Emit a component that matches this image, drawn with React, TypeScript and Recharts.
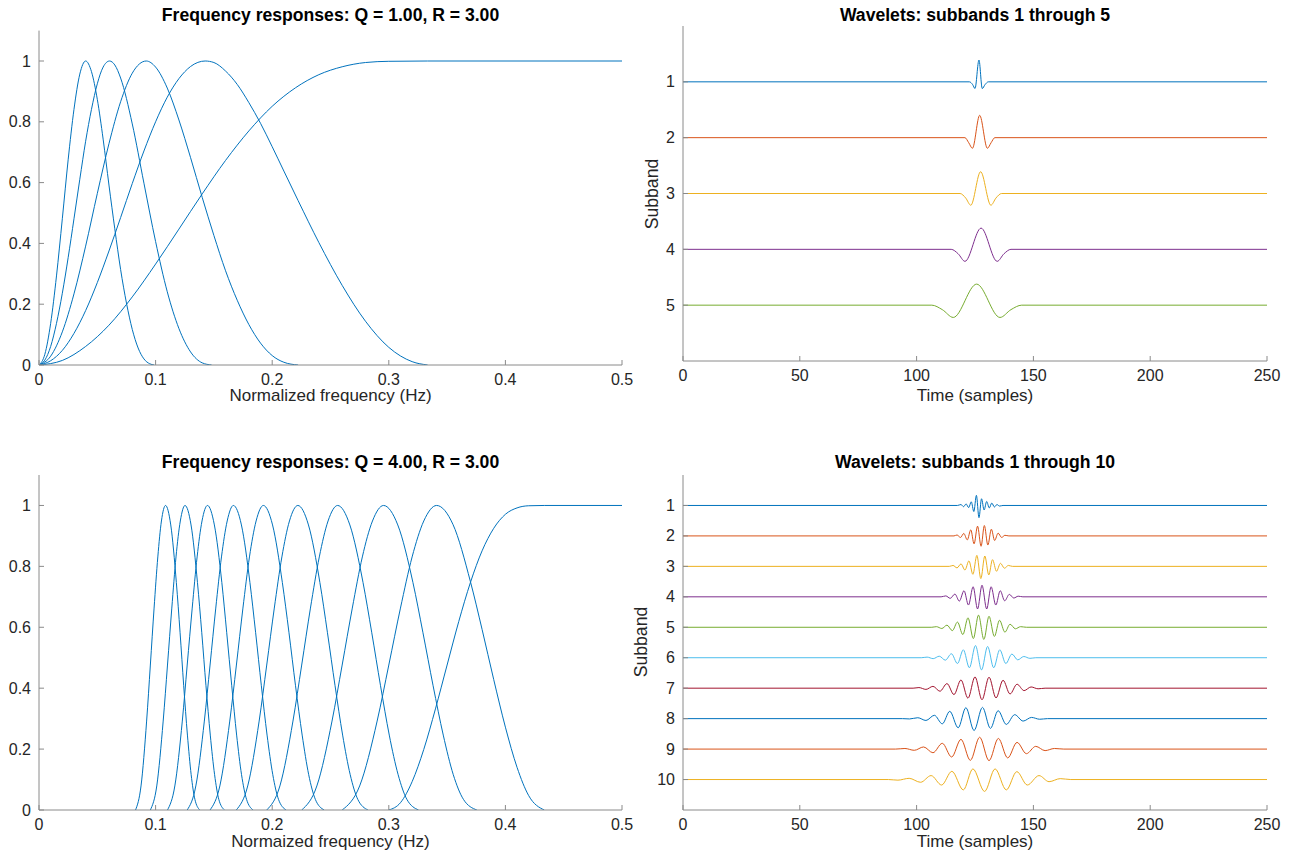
import React from 'react';
import { LineChart, Line, XAxis, YAxis } from 'recharts';

type Pt = [number, number];

// ---------- Top-left: Frequency responses Q = 1, R = 3 ----------
const tlHighpass: Pt[] = [[0,0],[0.02,0.015],[0.04,0.061],[0.06,0.131],[0.08,0.224],[0.1,0.332],[0.12,0.447],[0.14,0.563],[0.16,0.673],[0.18,0.77],[0.2,0.851],[0.22,0.912],[0.24,0.955],[0.26,0.981],[0.28,0.995],[0.3,0.999],[0.3333,1],[0.5,1]];
const tlBand2: Pt[] = [[0,0],[0.01,0.014],[0.02,0.048],[0.03,0.104],[0.04,0.179],[0.05,0.271],[0.06,0.375],[0.07,0.485],[0.08,0.597],[0.09,0.704],[0.1,0.8],[0.11,0.881],[0.12,0.942],[0.13,0.982],[0.1425,1],[0.15,0.995],[0.16,0.967],[0.17,0.923],[0.18,0.863],[0.19,0.795],[0.2,0.718],[0.21,0.638],[0.2222,0.541],[0.24,0.403],[0.26,0.262],[0.28,0.144],[0.3,0.058],[0.32,0.011],[0.3333,0]];
const tlBand3: Pt[] = [[0,0],[0.01,0.029],[0.02,0.109],[0.03,0.234],[0.04,0.391],[0.05,0.564],[0.06,0.728],[0.07,0.866],[0.08,0.96],[0.092,1],[0.1,0.98],[0.11,0.911],[0.12,0.806],[0.13,0.682],[0.14,0.551],[0.15,0.426],[0.16,0.31],[0.17,0.213],[0.18,0.133],[0.19,0.072],[0.2,0.031],[0.21,0.009],[0.2222,0]];
const tlBand4: Pt[] = [[0,0],[0.005,0.016],[0.01,0.061],[0.015,0.137],[0.02,0.236],[0.025,0.353],[0.03,0.481],[0.035,0.611],[0.04,0.736],[0.045,0.841],[0.05,0.925],[0.055,0.98],[0.0605,1],[0.065,0.987],[0.07,0.944],[0.08,0.793],[0.09,0.598],[0.1,0.406],[0.11,0.241],[0.12,0.12],[0.13,0.043],[0.14,0.007],[0.148,0]];
const tlBand5: Pt[] = [[0,0],[0.005,0.035],[0.01,0.137],[0.015,0.293],[0.02,0.481],[0.025,0.675],[0.03,0.841],[0.035,0.957],[0.04,1],[0.045,0.965],[0.05,0.874],[0.055,0.743],[0.06,0.592],[0.065,0.448],[0.07,0.314],[0.075,0.204],[0.08,0.117],[0.085,0.056],[0.09,0.02],[0.095,0.004],[0.0988,0]];

// ---------- Bottom-left: Frequency responses Q = 4, R = 3 ----------
const blHighpass: Pt[] = [[0.3,0],[0.31,0.024],[0.32,0.093],[0.33,0.199],[0.34,0.332],[0.35,0.476],[0.36,0.619],[0.37,0.747],[0.38,0.851],[0.39,0.925],[0.4,0.971],[0.41,0.992],[0.42,0.999],[0.4333,1],[0.5,1]];
const blLevelsTop = [0,0.079,0.292,0.476,0.663,0.831,0.949,1,0.938,0.75,0.593,0.428,0.272,0.14,0.047,0];
const blLevels = [0,0.079,0.292,0.476,0.663,0.831,0.949,1,0.936,0.747,0.582,0.408,0.246,0.116,0.035,0];
const blFreq2 = [0.26,0.275,0.29,0.3,0.31,0.32,0.33,0.341,0.355,0.37,0.38,0.39,0.4,0.41,0.42,0.4333];
const blFreq3 = [0.2253,0.2383,0.2513,0.26,0.2687,0.2773,0.286,0.2955,0.3077,0.3207,0.3293,0.338,0.3467,0.3553,0.364,0.3755];
const blFreq4 = [0.1953,0.2066,0.2178,0.2253,0.2328,0.2404,0.2479,0.2561,0.2666,0.2779,0.2854,0.2929,0.3004,0.308,0.3155,0.3255];
const blFreq5 = [0.1692,0.179,0.1888,0.1953,0.2018,0.2083,0.2148,0.222,0.2311,0.2409,0.2474,0.2539,0.2604,0.2669,0.2734,0.2821];
const blFreq6 = [0.1467,0.1551,0.1636,0.1693,0.1749,0.1805,0.1862,0.1924,0.2003,0.2087,0.2144,0.22,0.2257,0.2313,0.237,0.2445];
const blFreq7 = [0.1271,0.1345,0.1418,0.1467,0.1516,0.1565,0.1614,0.1667,0.1736,0.1809,0.1858,0.1907,0.1956,0.2005,0.2054,0.2119];
const blFreq8 = [0.1102,0.1165,0.1229,0.1271,0.1314,0.1356,0.1398,0.1445,0.1504,0.1568,0.161,0.1653,0.1695,0.1737,0.178,0.1836];
const blFreq9 = [0.0955,0.101,0.1065,0.1102,0.1139,0.1175,0.1212,0.1252,0.1304,0.1359,0.1396,0.1432,0.1469,0.1506,0.1542,0.1591];
const blFreq10 = [0.0828,0.0875,0.0923,0.0955,0.0987,0.1019,0.105,0.1085,0.113,0.1178,0.121,0.1241,0.1273,0.1305,0.1337,0.1379];

// ---------- Top-right: wavelets 1..5 (time, amplitude in subband units) ----------
const trWave1: Pt[] = [[0,0],[122.6,0],[124,-0.05],[125,-0.12],[126.7,0.39],[128.1,-0.12],[129.3,-0.05],[130.7,0],[250,0]];
const trWave2: Pt[] = [[0,0],[120.7,0],[122.3,-0.09],[123.9,-0.19],[127,0.4],[130.3,-0.19],[131.9,-0.09],[133.5,0],[250,0]];
const trWave3: Pt[] = [[0,0],[118.6,0],[121,-0.08],[123.2,-0.21],[127.4,0.39],[131.8,-0.21],[134,-0.08],[136.4,0],[250,0]];
const trWave4: Pt[] = [[0,0],[114.8,0],[117.8,-0.08],[120.7,-0.215],[127.6,0.38],[134.5,-0.215],[137.4,-0.08],[140.4,0],[250,0]];
const trWave5: Pt[] = [[0,0],[106.5,0],[111,-0.08],[115.7,-0.22],[125.7,0.377],[135.7,-0.22],[140.4,-0.08],[145,0],[250,0]];

// ---------- Bottom-right: wavelets 1..10 ----------
const brWave1: Pt[] = [[0,0],[117.5,0],[119,0.03],[120.1,-0.04],[121.2,0.05],[122.3,-0.07],[123.4,0.12],[124.5,-0.2],[125.6,0.33],[126.7,-0.4],[127.8,0.22],[128.9,-0.15],[130,0.13],[131.1,-0.08],[132.2,0.08],[133.3,-0.05],[134.4,0.03],[135.5,-0.02],[137,0],[250,0]];
const brWave2: Pt[] = [[0,0],[116,0],[117.3,0.03],[118.8,-0.05],[120.2,0.08],[121.7,-0.13],[123.2,0.2],[124.6,-0.26],[126.1,0.32],[127.6,-0.34],[129,0.34],[130.5,-0.3],[132,0.22],[133.4,-0.15],[134.9,0.09],[136.4,-0.05],[137.8,0.02],[139.5,0],[250,0]];
const brWave3: Pt[] = [[0,0],[114,0],[115.6,0.03],[117.3,-0.05],[119,0.08],[120.7,-0.12],[122.4,0.18],[124.1,-0.26],[125.8,0.36],[127.5,-0.4],[129.2,0.34],[130.9,-0.28],[132.5,0.22],[134.2,-0.16],[135.9,0.1],[137.6,-0.06],[139.3,0.03],[141,0],[250,0]];
const brWave4: Pt[] = [[0,0],[110.5,0],[112.5,0.03],[114.4,-0.05],[116.4,0.09],[118.3,-0.14],[120.3,0.2],[122.2,-0.27],[124.2,0.33],[126.1,-0.4],[128,0.38],[130,-0.4],[131.9,0.33],[133.9,-0.27],[135.8,0.2],[137.7,-0.13],[139.7,0.08],[141.6,-0.04],[143.5,0.02],[145.5,0],[250,0]];
const brWave5: Pt[] = [[0,0],[106.5,0],[108.5,0.02],[110.8,-0.04],[113,0.07],[115.3,-0.11],[117.5,0.17],[119.8,-0.24],[122,0.31],[124.3,-0.37],[126.5,0.4],[128.8,-0.4],[131,0.36],[133.3,-0.3],[135.5,0.23],[137.8,-0.16],[140,0.1],[142.3,-0.05],[144.5,0.02],[147,0],[250,0]];
const brWave6: Pt[] = [[0,0],[102,0],[104.5,0.02],[107.1,-0.03],[109.7,0.05],[112.3,-0.08],[114.9,0.13],[117.5,-0.19],[120,0.26],[122.6,-0.33],[125.2,0.4],[127.8,-0.4],[130.4,0.37],[133,-0.33],[135.6,0.26],[138.2,-0.19],[140.8,0.12],[143.3,-0.07],[145.9,0.04],[148.5,-0.02],[151,0],[250,0]];
const brWave7: Pt[] = [[0,0],[98.5,0],[101,0.02],[104,-0.04],[107,0.06],[110,-0.1],[113,0.15],[116,-0.21],[119,0.27],[122,-0.33],[125,0.37],[128,-0.38],[131,0.36],[134,-0.32],[137,0.26],[140,-0.19],[143,0.13],[146,-0.08],[149,0.04],[152,-0.02],[155,0],[250,0]];
const brWave8: Pt[] = [[0,0],[94,0],[97,-0.01],[100.5,0.03],[104,-0.06],[107.6,0.11],[111,-0.17],[114.2,0.24],[117.8,-0.3],[121.1,0.36],[124.6,-0.39],[128.2,0.37],[131.6,-0.32],[134.9,0.26],[138.4,-0.19],[142,0.13],[145.6,-0.08],[149.2,0.04],[152.7,-0.02],[156,0],[250,0]];
const brWave9: Pt[] = [[0,0],[91,0],[95,0.02],[99,-0.04],[103,0.07],[107,-0.12],[111,0.19],[115,-0.26],[119,0.32],[123,-0.37],[127,0.39],[131,-0.38],[135,0.35],[139,-0.29],[143,0.22],[147,-0.15],[151,0.09],[155,-0.05],[159,0.02],[163,0],[250,0]];
const brWave10: Pt[] = [[0,0],[88,0],[92,-0.02],[96.8,0.04],[101.7,-0.09],[106.2,0.13],[110.7,-0.18],[115.1,0.27],[120,-0.34],[124.1,0.35],[129.1,-0.39],[133.6,0.35],[138.4,-0.34],[142.9,0.26],[147.4,-0.18],[152.4,0.13],[156.7,-0.07],[161.5,0.03],[166,0],[250,0]];

// ---------- ticks / labels ----------
const freqTicks = [0, 0.1, 0.2, 0.3, 0.4, 0.5];
const respTicks = [0, 0.2, 0.4, 0.6, 0.8, 1];
const timeTicks = [0, 50, 100, 150, 200, 250];
const subbandTicks5 = [1, 2, 3, 4, 5];
const subbandTicks10 = [1, 2, 3, 4, 5, 6, 7, 8, 9, 10];
const lineColors = ['#0072BD', '#D95319', '#EDB120', '#7E2F8E', '#77AC30', '#4DBEEE', '#A2142F'];
const freqBlue = '#0072BD';

const AXIS = '#8a8a8a';
const TEXT = '#262626';
const FONT = '"Liberation Sans", Arial, Helvetica, sans-serif';

const toRows = (pts: Pt[]) => pts.map(([x, y]) => ({ x, y }));
const zipRows = (xs: number[], ys: number[]) => xs.map((x, i) => ({ x, y: ys[i] }));
const toWave = (pts: Pt[], k: number) => pts.map(([x, a]) => ({ x, y: k - a }));

const XTick = (props: any) => {
  const { x, y, payload } = props;
  return (
    <g>
      <line x1={x} y1={y} x2={x} y2={y - 5} stroke={AXIS} strokeWidth={1} />
      <text x={x} y={y + 19.5} textAnchor="middle" fill={TEXT} fontSize={16} fontFamily={FONT}>
        {String(payload.value)}
      </text>
    </g>
  );
};

const YTick = (props: any) => {
  const { x, y, payload } = props;
  return (
    <g>
      <line x1={x} y1={y} x2={x + 5} y2={y} stroke={AXIS} strokeWidth={1} />
      <text x={x - 8} y={y + 5.5} textAnchor="end" fill={TEXT} fontSize={16} fontFamily={FONT}>
        {String(payload.value)}
      </text>
    </g>
  );
};

type Series = { data: { x: number; y: number }[]; color: string };

type PanelProps = {
  left: number; top: number; width: number; height: number;
  x0: number; x1: number; y0: number; y1: number;
  xDomain: [number, number]; yDomain: [number, number];
  xTicks: number[]; yTicks: number[]; reversed?: boolean;
  series: Series[]; curve: 'monotone' | 'linear';
};

function Panel(p: PanelProps) {
  const margin = { top: p.y0 - p.top, right: p.left + p.width - p.x1, left: 0, bottom: 0 };
  return (
    <div style={{ position: 'absolute', left: p.left, top: p.top }}>
      <LineChart width={p.width} height={p.height} margin={margin}>
        <XAxis
          type="number" dataKey="x" domain={p.xDomain} ticks={p.xTicks} interval={0}
          allowDataOverflow height={p.top + p.height - p.y1} tickSize={0} tickMargin={0}
          axisLine={{ stroke: AXIS, strokeWidth: 1 }} tickLine={false}
          tick={(t: any) => <XTick {...t} />}
        />
        <YAxis
          type="number" dataKey="y" domain={p.yDomain} ticks={p.yTicks} interval={0}
          allowDataOverflow width={p.x0 - p.left} tickSize={0} tickMargin={0} reversed={!!p.reversed}
          axisLine={{ stroke: AXIS, strokeWidth: 1 }} tickLine={false}
          tick={(t: any) => <YTick {...t} />}
        />
        {p.series.map((s, i) => (
          <Line key={i} data={s.data} dataKey="y" type={p.curve} stroke={s.color} strokeWidth={1}
            dot={false} activeDot={false} isAnimationActive={false} />
        ))}
      </LineChart>
    </div>
  );
}

const Txt = ({ cx, cy, text, bold, rotate, size }: { cx: number; cy: number; text: string; bold?: boolean; rotate?: boolean; size?: number }) => (
  <div style={{
    position: 'absolute', left: cx - 300, top: cy - 9, width: 600, height: 18, lineHeight: '18px',
    textAlign: 'center', fontFamily: FONT, fontSize: size ?? 17.6, fontWeight: bold ? 'bold' : 'normal',
    color: bold ? '#000' : TEXT, whiteSpace: 'nowrap',
    transform: rotate ? 'rotate(-90deg)' : undefined,
  }}>{text}</div>
);

export default function App() {
  const tlSeries: Series[] = [tlBand5, tlBand4, tlBand3, tlBand2, tlHighpass].map((d) => ({ data: toRows(d), color: freqBlue }));
  const blSeries: Series[] = [
    zipRows(blFreq10, blLevels), zipRows(blFreq9, blLevels), zipRows(blFreq8, blLevels),
    zipRows(blFreq7, blLevels), zipRows(blFreq6, blLevels), zipRows(blFreq5, blLevels),
    zipRows(blFreq4, blLevels), zipRows(blFreq3, blLevels), zipRows(blFreq2, blLevelsTop),
    toRows(blHighpass),
  ].map((d) => ({ data: d, color: freqBlue }));
  const trSeries: Series[] = [trWave1, trWave2, trWave3, trWave4, trWave5].map((w, i) => ({ data: toWave(w, i + 1), color: lineColors[i % 7] }));
  const brSeries: Series[] = [brWave1, brWave2, brWave3, brWave4, brWave5, brWave6, brWave7, brWave8, brWave9, brWave10]
    .map((w, i) => ({ data: toWave(w, i + 1), color: lineColors[i % 7] }));

  return (
    <div style={{ position: 'absolute', left: 0, top: 0, width: 1295, height: 852, background: '#fff', overflow: 'hidden' }}>
      <Panel left={0} top={0} width={640} height={400} x0={39} x1={622} y0={30.6} y1={365}
        xDomain={[0, 0.5]} yDomain={[0, 1.1]} xTicks={freqTicks} yTicks={respTicks}
        series={tlSeries} curve="monotone" />
      <Panel left={640} top={0} width={655} height={400} x0={683} x1={1267} y0={26} y1={361}
        xDomain={[0, 250]} yDomain={[0, 6]} xTicks={timeTicks} yTicks={subbandTicks5} reversed
        series={trSeries} curve="monotone" />
      <Panel left={0} top={440} width={640} height={400} x0={39} x1={622} y0={475} y1={810}
        xDomain={[0, 0.5]} yDomain={[0, 1.1]} xTicks={freqTicks} yTicks={respTicks}
        series={blSeries} curve="monotone" />
      <Panel left={640} top={440} width={655} height={400} x0={683} x1={1267} y0={475} y1={810}
        xDomain={[0, 250]} yDomain={[0, 11]} xTicks={timeTicks} yTicks={subbandTicks10} reversed
        series={brSeries} curve="monotone" />

      <Txt cx={330.5} cy={15} text="Frequency responses: Q = 1.00, R = 3.00" bold />
      <Txt cx={975} cy={15} text="Wavelets: subbands 1 through 5" bold />
      <Txt cx={330.5} cy={462} text="Frequency responses: Q = 4.00, R = 3.00" bold />
      <Txt cx={975} cy={462} text="Wavelets: subbands 1 through 10" bold />

      <Txt cx={330.5} cy={396} text="Normalized frequency (Hz)" size={17} />
      <Txt cx={975} cy={396} text="Time (samples)" size={17} />
      <Txt cx={330.5} cy={842} text="Normaized frequency (Hz)" size={17} />
      <Txt cx={975} cy={842} text="Time (samples)" size={17} />

      <Txt cx={652} cy={194} text="Subband" rotate />
      <Txt cx={641} cy={642} text="Subband" rotate />
    </div>
  );
}
